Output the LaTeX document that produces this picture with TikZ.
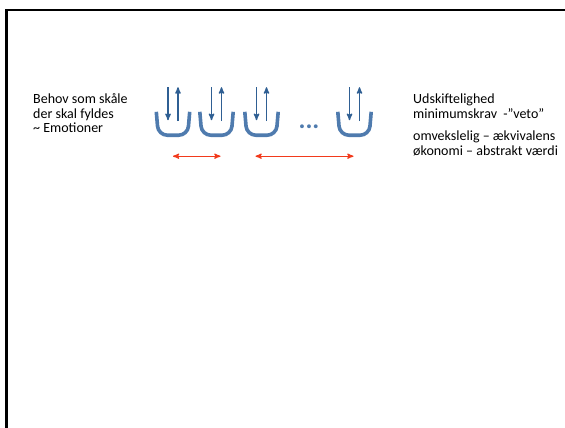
\documentclass[tikz,border=0pt]{standalone}
\usepackage{fontspec}
\setmainfont{Carlito}
\usetikzlibrary{arrows, positioning}
\definecolor{cupblue}{HTML}{4F7BAE}
\definecolor{arrblue}{HTML}{2F5F93}
\definecolor{exred}{HTML}{F23A1C}
\tikzset{>=stealth',
cup/.style={minimum width=29pt, minimum height=21pt, inner sep=0pt},
cupline/.style={draw=cupblue, line width=3.6pt, rounded corners=9pt},
flow/.style={->, draw=arrblue, line width=1.3pt},
swap/.style={<->, draw=exred, line width=1.2pt},
txt/.style={font=\fontsize{14}{14.5}\selectfont, align=left, inner sep=0pt}}

\begin{document}
\begin{tikzpicture}[x=1pt,y=-1pt]
\useasboundingbox (0,0) rectangle (565,428);
\clip (0,0) rectangle (565,428);
\draw[line width=2.5pt] (6.5,10) rectangle (600,460);
% the cups
\node[cup] (c1) at (173,124.5) {};
\node[cup] (c2) at (216.5,124.5) {};
\node[cup] (c3) at (261.5,124.5) {};
\node[cup] (c4) at (354.5,124.5) {};
\node[text=cupblue, anchor=base, font=\bfseries\fontsize{26}{26}\selectfont] (dots) at (309,128) {...};
\foreach \c in {c1,c2,c3,c4}{
  \draw[cupline] ([xshift=-2pt,yshift=2pt]\c.north west) -- (\c.south west)
    -- (\c.south east) -- ([xshift=2pt,yshift=2pt]\c.north east);
  \draw[flow] ([xshift=-5pt,yshift=48pt]\c.south) -- ([xshift=-5pt,yshift=15pt]\c.south);
  \draw[flow] ([xshift=5pt,yshift=14pt]\c.south) -- ([xshift=5pt,yshift=48pt]\c.south);
}
% exchange
\draw[swap] ([yshift=-21pt]c1.south) -- ([xshift=4pt,yshift=-21pt]c2.south);
\draw[swap] ([xshift=-6pt,yshift=-21pt]c3.south) -- ([xshift=-1pt,yshift=-21pt]c4.south);
% texts
\node[txt, anchor=base west] (behov) at (33,132.5) {Behov som skåle\\der skal fyldes\\\~{} Emotioner};
\node[txt, anchor=base west] (udsk) at (413,118) {Udskiftelighed\\minimumskrav~~-”veto”};
\node[txt, anchor=base west] (omv) at (413,155) {omvekslelig – ækvivalens\\økonomi – abstrakt værdi};
\end{tikzpicture}
\end{document}
